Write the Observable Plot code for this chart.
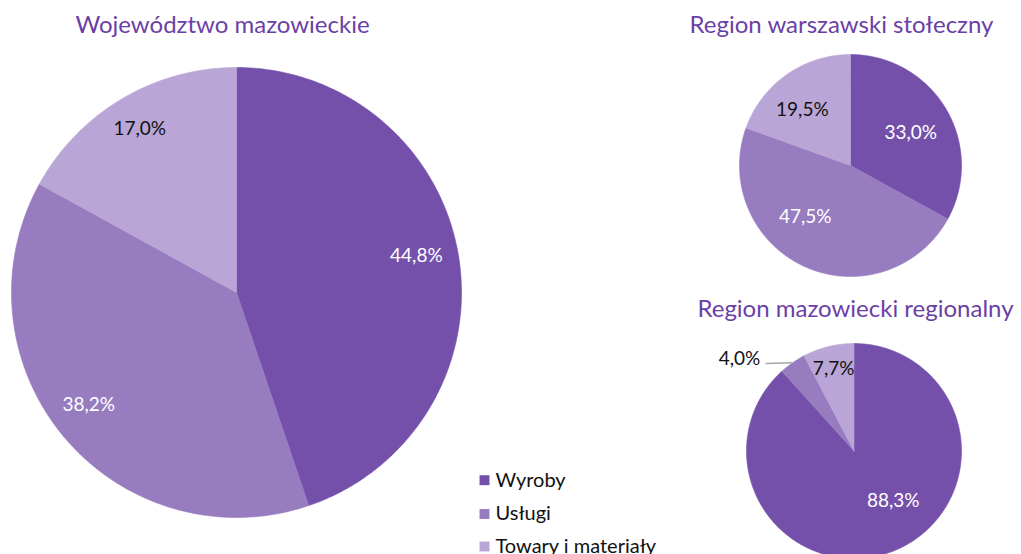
<!DOCTYPE html>
<html><head><meta charset="utf-8">
<script src="https://cdn.jsdelivr.net/npm/d3@7"></script>
<script src="https://cdn.jsdelivr.net/npm/@observablehq/plot@0.6"></script>
<style>body{margin:0;background:#fff}</style>
</head><body><div id="chart"></div>
<script>
// ---- data ----
const categories = ["Wyroby", "Usługi", "Towary i materiały"];
const colors = ["#7450aa", "#977cc0", "#b9a6d6"];
const pieTitles = ["Województwo mazowieckie", "Region warszawski stołeczny", "Region mazowiecki regionalny"];
const mazowieckie = [44.8, 38.2, 17.0];
const warszawski = [33.0, 47.5, 19.5];
const regionalny = [88.3, 4.0, 7.7];
const labelColors = ["#ffffff", "#ffffff", "#111111"];

// ---- layout ----
const FONT = "Lato, 'Open Sans', sans-serif";
const layout = [
  {values: mazowieckie, cx: 236, cy: 292, r: 225, tx: 222, ty: 25, labelR: [0.81, 0.845, 0.845], nudge: [[0, -7], [-2, -10], [0, 0]]},
  {values: warszawski, cx: 850, cy: 165, r: 111, tx: 841, ty: 25, labelR: [0.62, 0.62, 0.66], nudge: [[1, 2], [-17, -11], [-6, 4]]},
  {values: regionalny, cx: 853.5, cy: 450.5, r: 107.5, tx: 855, ty: 309, labelR: [0.6, 1.0, 0.79], nudge: [[16, -10], [0, 0], [0, 0]],
   outside: {index: 1, lineTo: [765, 363], at: [739, 358]}}
];

const fmt = v => v.toFixed(1).replace(".", ",") + "%";
const pie = d3.pie().sort(null).value(d => d);

const slices = [], labels = [], leaders = [];
layout.forEach((L, p) => {
  const arcs = pie(L.values);
  arcs.forEach((a, i) => {
    const key = p + "-" + i;
    const pt = ang => ({key, cat: categories[i], x: L.cx + L.r * Math.sin(ang), y: L.cy - L.r * Math.cos(ang)});
    slices.push({key, cat: categories[i], x: L.cx, y: L.cy});
    const n = Math.max(2, Math.ceil((a.endAngle - a.startAngle) / 0.01));
    for (let k = 0; k <= n; k++) slices.push(pt(a.startAngle + (a.endAngle - a.startAngle) * k / n));
    slices.push({key, cat: categories[i], x: L.cx, y: L.cy});
    const mid = (a.startAngle + a.endAngle) / 2;
    if (L.outside && L.outside.index === i) {
      const sx = L.cx + L.r * Math.sin(mid), sy = L.cy - L.r * Math.cos(mid);
      leaders.push({x1: sx, y1: sy, x2: L.outside.lineTo[0], y2: L.outside.lineTo[1]});
      labels.push({x: L.outside.at[0], y: L.outside.at[1], text: fmt(a.data), color: "#111111"});
    } else {
      const rr = L.r * L.labelR[i];
      labels.push({x: L.cx + rr * Math.sin(mid) + L.nudge[i][0], y: L.cy - rr * Math.cos(mid) + L.nudge[i][1],
        text: fmt(a.data), color: labelColors[i]});
    }
  });
});
const titles = layout.map((L, p) => ({x: L.tx, y: L.ty, text: pieTitles[p]}));
const legendX = 484, legendY = [479.7, 513.5, 546];
const legend = categories.map((c, i) => ({cat: c, x: legendX, y: legendY[i]}));

const chart = Plot.plot({
  width: 1021, height: 554, margin: 0,
  x: {domain: [0, 1021], axis: null},
  y: {domain: [554, 0], axis: null},
  color: {domain: categories, range: colors},
  style: {fontFamily: FONT, background: "#fff"},
  marks: [
    Plot.line(slices, {x: "x", y: "y", z: "key", fill: "cat", stroke: "cat", strokeWidth: 0.6, curve: "linear"}),
    Plot.link(leaders, {x1: "x1", y1: "y1", x2: "x2", y2: "y2", stroke: "#a6a6a6", strokeWidth: 1.5}),
    Plot.text(labels, {x: "x", y: "y", text: "text", fill: d => d.color, fontSize: 19, fontFamily: FONT}),
    Plot.text(titles, {x: "x", y: "y", text: "text", fill: "#6b3fa6", fontSize: 24, fontFamily: FONT}),
    Plot.dot(legend, {x: "x", y: "y", fill: "cat", symbol: "square", r: 5.6, stroke: null}),
    Plot.text(legend, {x: d => d.x + 11, y: "y", text: "cat", textAnchor: "start", fill: "#111111", fontSize: 20, fontFamily: FONT})
  ]
});
document.getElementById("chart").appendChild(chart);
</script>
</body></html>
